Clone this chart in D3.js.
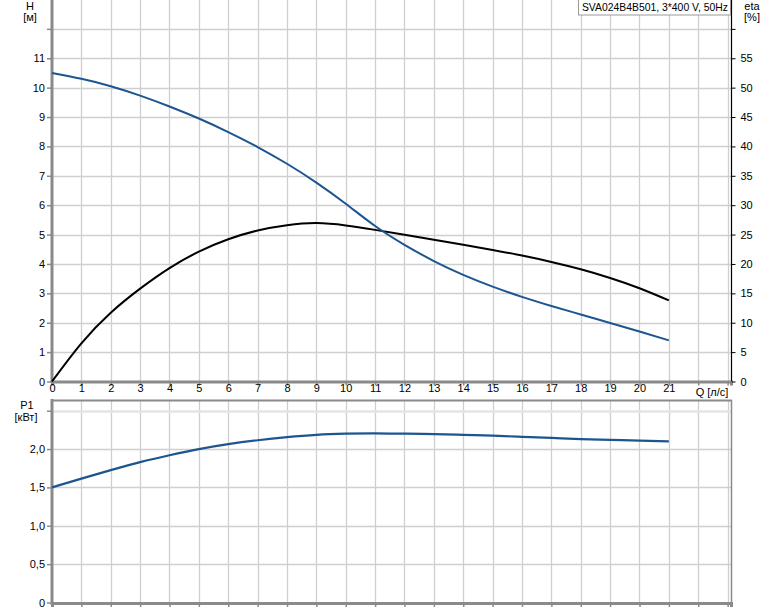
<!DOCTYPE html>
<html><head><meta charset="utf-8">
<script src="https://cdn.jsdelivr.net/npm/d3@7"></script>
<style>
html,body{margin:0;padding:0;background:#fff;}
svg{display:block;font-family:"Liberation Sans",Arial,sans-serif;}
</style></head>
<body>
<svg id="c" width="774" height="611"></svg>
<script>
const flow = [0,1,2,3,4,5,6,7,8,9,10,11,12,13,14,15,16,17,18,19,20,21];
const head = [10.5,10.30,10.05,9.73,9.36,8.95,8.49,7.98,7.41,6.77,6.05,5.29,4.65,4.10,3.63,3.23,2.88,2.57,2.28,1.99,1.70,1.40];
const eta  = [0,6.5,11.7,15.8,19.3,22.1,24.2,25.7,26.6,26.95,26.55,25.8,24.98,24.12,23.26,22.38,21.43,20.35,19.1,17.62,15.87,13.8];
const power= [1.5,1.615,1.725,1.83,1.92,2.0,2.065,2.115,2.155,2.185,2.2,2.205,2.2,2.195,2.185,2.175,2.16,2.145,2.13,2.12,2.11,2.1];
const qTicks = d3.range(0,24);
const qLabels = d3.range(0,22);
const hTicks = d3.range(0,13);
const hLabels = d3.range(0,12);
const etaTicks = d3.range(0,65,5);
const etaLabels = d3.range(0,60,5);
const pTicks = [0,0.5,1.0,1.5,2.0,2.5];
const pLabels = ["0","0,5","1,0","1,5","2,0"];
const title = "SVA024B4B501, 3*400 V, 50Hz";

const svg = d3.select("#c");
const L = 52, R = 731;
const x = d3.scaleLinear().domain([0,23.115]).range([L,R]);
const y = d3.scaleLinear().domain([0,13]).range([381.5,-0.5]);
const ye = d3.scaleLinear().domain([0,65]).range([381.5,-0.5]);
const yp = d3.scaleLinear().domain([0,2.62]).range([602.5,401.5]);
const gridC = "#cfcfcf", axisC = "#8a8a8a";
const crisp = v => Math.round(v)+0.5;

// main grid
const g1 = svg.append("g");
qTicks.slice(1).forEach(q=>{
  g1.append("line").attr("x1",crisp(x(q))).attr("x2",crisp(x(q))).attr("y1",0).attr("y2",381)
    .attr("stroke",gridC).attr("stroke-width",1.3);
});
hTicks.slice(1).forEach(h=>{
  g1.append("line").attr("x1",L).attr("x2",R).attr("y1",crisp(y(h))).attr("y2",crisp(y(h)))
    .attr("stroke",gridC).attr("stroke-width",1.3);
});
// lower grid
const g2 = svg.append("g");
qTicks.slice(1).forEach(q=>{
  g2.append("line").attr("x1",crisp(x(q))).attr("x2",crisp(x(q))).attr("y1",401).attr("y2",603)
    .attr("stroke",gridC).attr("stroke-width",1.3);
});
pTicks.slice(1).forEach(p=>{
  g2.append("line").attr("x1",L).attr("x2",R).attr("y1",crisp(yp(p))).attr("y2",crisp(yp(p)))
    .attr("stroke", p===2.5 ? "#e4e4e4" : gridC).attr("stroke-width", p===2.5 ? 2.5 : 1.3);
});

// axes main
const axB = d3.axisBottom(x).tickValues(qTicks).tickSize(4).tickFormat(d=> qLabels.includes(d)? d : "");
const gB = svg.append("g").attr("transform","translate(0,381.5)").call(axB);
gB.select(".domain").attr("stroke",axisC).attr("stroke-width",3);
gB.selectAll(".tick line").attr("stroke",axisC).attr("stroke-width",1.5);
gB.selectAll("text").attr("font-size",11).attr("fill","#000").attr("dy","0.45em").attr("y",6);

const axL = d3.axisLeft(y).tickValues(hTicks).tickSize(5).tickFormat(d=> hLabels.includes(d)? d : "");
const gL = svg.append("g").attr("transform","translate(52,0)").call(axL);
gL.select(".domain").remove();
gL.selectAll(".tick line").attr("stroke",axisC).attr("stroke-width",1.5);
gL.selectAll("text").attr("font-size",11).attr("fill","#000").attr("x",-7);
svg.append("line").attr("x1",52).attr("x2",52).attr("y1",0).attr("y2",383).attr("stroke",axisC).attr("stroke-width",3);

const axR = d3.axisRight(ye).tickValues(etaTicks).tickSize(4).tickFormat(d=> etaLabels.includes(d)? d : "");
const gR = svg.append("g").attr("transform","translate(731.5,0)").call(axR);
gR.select(".domain").remove();
gR.selectAll(".tick line").attr("stroke","#000").attr("stroke-width",1);
gR.selectAll("text").attr("font-size",11).attr("fill","#000").attr("x",9);
svg.append("line").attr("x1",731.5).attr("x2",731.5).attr("y1",0).attr("y2",381).attr("stroke","#000").attr("stroke-width",1.2);

// axes lower
const axPB = d3.axisBottom(x).tickValues(qTicks).tickSize(4).tickFormat("");
const gPB = svg.append("g").attr("transform","translate(0,603)").call(axPB);
gPB.select(".domain").attr("stroke",axisC).attr("stroke-width",3);
gPB.selectAll(".tick line").attr("stroke",axisC).attr("stroke-width",1.5);

const axPL = d3.axisLeft(yp).tickValues(pTicks).tickSize(5).tickFormat((d,i)=> pLabels[i] || "");
const gPL = svg.append("g").attr("transform","translate(52,0)").call(axPL);
gPL.select(".domain").remove();
gPL.selectAll(".tick line").attr("stroke",axisC).attr("stroke-width",1.5);
gPL.selectAll("text").attr("font-size",11).attr("fill","#000").attr("x",-7);
svg.append("line").attr("x1",52).attr("x2",52).attr("y1",399).attr("y2",605).attr("stroke",axisC).attr("stroke-width",3);
svg.append("line").attr("x1",52).attr("x2",732).attr("y1",400.5).attr("y2",400.5).attr("stroke",axisC).attr("stroke-width",2);
svg.append("line").attr("x1",731.5).attr("x2",731.5).attr("y1",400).attr("y2",603).attr("stroke",axisC).attr("stroke-width",1.5);

// curves
const blue = "#1d5591";
const lineH = d3.line().x((d,i)=>x(flow[i])).y(d=>y(d)).curve(d3.curveNatural);
const lineE = d3.line().x((d,i)=>x(flow[i])).y(d=>ye(d)).curve(d3.curveNatural);
const lineP = d3.line().x((d,i)=>x(flow[i])).y(d=>yp(d)).curve(d3.curveNatural);
svg.append("path").attr("d",lineE(eta)).attr("fill","none").attr("stroke","#000").attr("stroke-width",2);
svg.append("path").attr("d",lineH(head)).attr("fill","none").attr("stroke",blue).attr("stroke-width",2);
svg.append("path").attr("d",lineP(power)).attr("fill","none").attr("stroke",blue).attr("stroke-width",2.2);

// labels
const txt = (t,xx,yy,anchor="middle",fs=11) => svg.append("text").attr("x",xx).attr("y",yy).attr("text-anchor",anchor)
  .attr("font-size",fs).attr("fill","#000").text(t);
txt("H",30,10); txt("[м]",30,21);
txt("eta",752,10); txt("[%]",752,21);
txt("P1",27,409); txt("[кВт]",26,421);
txt("Q [л/с]",712,396);

// title box
svg.append("rect").attr("x",578.5).attr("y",-1).attr("width",152).attr("height",16)
  .attr("fill","#fff").attr("stroke","#999").attr("stroke-width",1);
txt(title,655,11,"middle",10.4);
</script>
</body></html>
